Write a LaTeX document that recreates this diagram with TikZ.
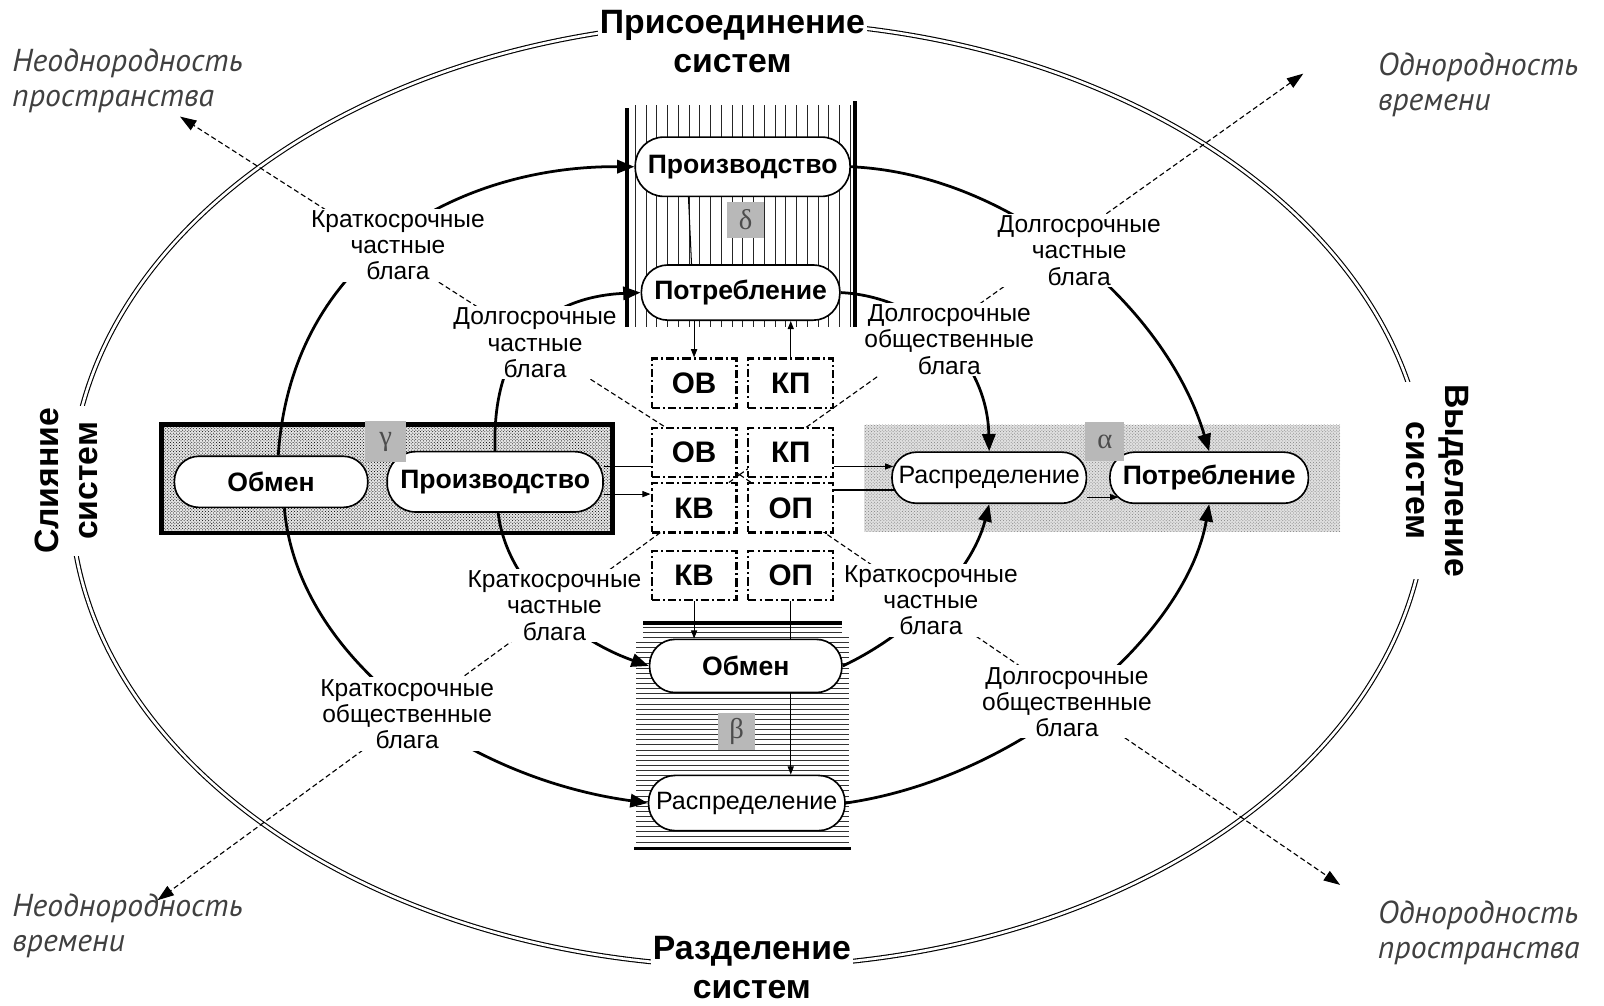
\documentclass[tikz,border=0pt]{standalone}
\usepackage{fontspec}
\setmainfont{Liberation Sans}
\newfontfamily\grk{Liberation Serif}
\newfontfamily\ptit{PT Sans}
\usetikzlibrary{arrows.meta,patterns}
\pgfdeclarelayer{back}
\pgfdeclarelayer{mid}
\pgfsetlayers{back,mid,main}
\tikzset{
  stad/.style={draw, line width=1.6pt, fill=white, inner sep=0pt,
    font=\fontsize{26}{28}\selectfont\bfseries},
  stadr/.style={stad, font=\fontsize{24.5}{26}\selectfont},
  gbox/.style={draw, line width=2.2pt, dash pattern=on 8pt off 3pt on 2pt off 3pt,
    fill=white, minimum width=83pt, minimum height=48pt, inner sep=0pt,
    font=\fontsize{29}{30}\selectfont\bfseries},
  glab/.style={fill=black!28, minimum size=#1, inner sep=0pt,
    font=\grk\fontsize{28}{28}\selectfont, text=black!70},
  clab/.style={fill=white, align=center, inner sep=2pt, font=\fontsize{24}{25.5}\selectfont},
  elab/.style={fill=white, align=center, inner sep=2pt, font=\bfseries\fontsize{33}{38}\selectfont},
  corner/.style={align=left, anchor=west, inner sep=0pt, text=black!75, font=\ptit\itshape\fontsize{31}{34}\selectfont},
  flow/.style={line width=2.7pt, -{Triangle[length=17pt,width=13pt]}},
  dline/.style={line width=1.1pt, dash pattern=on 5pt off 3pt, -{Triangle[length=16pt,width=11pt]}},
  thinarr/.style={line width=1pt, -{Triangle[length=8pt,width=6pt]}},
  thinl/.style={line width=1pt},
}
\begin{document}
\begin{tikzpicture}[x=1pt,y=-1pt]
\useasboundingbox (0,0) rectangle (1568,983);

% ---------- nodes ----------
% delta
\node[stad, minimum width=210pt, minimum height=58pt, rounded corners=28pt] (dProiz) at (726,163) {Производство};
\node[stad, minimum width=194pt, minimum height=54pt, rounded corners=26pt] (dPotr) at (724,286) {Потребление};
% gamma
\node[stad, minimum width=189pt, minimum height=50pt, rounded corners=24pt] (gObmen) at (265,471) {Обмен};
\node[stad, minimum width=211pt, minimum height=59pt, rounded corners=28pt] (gProiz) at (484,471) {Производство};
% alpha
\node[stadr, minimum width=190pt, minimum height=50pt, rounded corners=24pt] (aRasp) at (967,467) {Распределение};
\node[stad, minimum width=194pt, minimum height=50pt, rounded corners=24pt] (aPotr) at (1182,467) {Потребление};
% beta
\node[stad, minimum width=188pt, minimum height=52pt, rounded corners=25pt] (bObmen) at (729,651) {Обмен};
\node[stadr, minimum width=192pt, minimum height=54pt, rounded corners=26pt] (bRasp) at (730,785) {Распределение};

% grid boxes
\node[gbox] (tOV) at (678.5,374.5) {ОВ};
\node[gbox] (tKP) at (773,374.5) {КП};
\node[gbox] (mOV) at (678.5,442.5) {ОВ};
\node[gbox] (mKP) at (773,442.5) {КП};
\node[gbox] (mKV) at (678.5,496.5) {КВ};
\node[gbox] (mOP) at (773,496.5) {ОП};
\node[gbox] (bKV) at (678.5,562.5) {КВ};
\node[gbox] (bOP) at (773,562.5) {ОП};

% greek labels
\node[glab=36pt] (lDelta) at (729,215) {δ};
\node[glab=40pt] (lGamma) at (377,432) {γ};
\node[glab=38pt] (lAlpha) at (1080,432) {α};
\node[glab=36pt] (lBeta) at (720,715) {β};

% connector labels
\node[clab] (L1) at (389,240) {Краткосрочные\\частные\\блага};
\node[clab] (L2) at (523,335) {Долгосрочные\\частные\\блага};
\node[clab] (L3) at (1055,245) {Долгосрочные\\частные\\блага};
\node[clab] (L4) at (928,332) {Долгосрочные\\общественные\\блага};
\node[clab] (L5) at (542,592) {Краткосрочные\\частные\\блага};
\node[clab] (L6) at (910,587) {Краткосрочные\\частные\\блага};
\node[clab] (L7) at (398,698) {Краткосрочные\\общественные\\блага};
\node[clab] (L8) at (1043,686) {Долгосрочные\\общественные\\блага};

% ellipse labels
\node[elab] (eTop) at (716,41) {Присоединение\\систем};
\node[elab] (eBot) at (735,946) {Разделение\\систем};
\node[elab, rotate=90] (eLeft) at (65,470) {Слияние\\систем};
\node[elab, rotate=-90] (eRight) at (1405,470) {Выделение\\систем};

% corner labels
\node[corner] (cTL) at (12,79) {Неоднородность\\пространства};
\node[corner] (cTR) at (1347,83) {Однородность\\времени};
\node[corner] (cBL) at (12,905) {Неоднородность\\времени};
\node[corner] (cBR) at (1347,912) {Однородность\\пространства};

\coordinate (ctr) at (723,464);
\coordinate (tipTL) at (176,114);
\coordinate (tipTR) at (1274,72);
\coordinate (tipBL) at (154,880);
\coordinate (tipBR) at (1310,865);

% ---------- background ----------
\begin{pgfonlayer}{back}
  \fill[white] (0,0) rectangle (1568,983);
  \draw[line width=1.1pt, double, double distance=2.6pt] (732,483) ellipse [x radius=663pt, y radius=462pt];
  % alpha block
  \fill[black!12] (845,415) rectangle (1310,520);
  \fill[pattern=crosshatch dots, pattern color=black!50] (845,415) rectangle (1310,520);
  % gamma block
  \fill[black!10] (158,415) rectangle (599,521);
  \fill[pattern=crosshatch dots, pattern color=black] (158,415) rectangle (599,521);
  \draw[line width=4.5pt] (158,415) rectangle (599,521);
  % delta block
  \foreach \x in {621,631.5,...,832} \draw[line width=0.7pt, black!85] (\x,103) -- (\x,320);
  \draw[line width=3.5pt] (613,106) -- (613,320);
  \draw[line width=3.5pt] (836,99) -- (836,320);
  % beta block
  \foreach \y in {613,618,...,828} \draw[line width=0.6pt, black!80] (622,\y) -- (830,\y);
  \draw[line width=3.5pt] (620,609) -- (832,609);
  \draw[line width=3pt] (620,829) -- (832,829);
\end{pgfonlayer}

% ---------- connectors ----------
\begin{pgfonlayer}{mid}
  \draw[dline] (ctr) -- (tipTL);
  \draw[dline] (ctr) -- (tipTR);
  \draw[dline] (ctr) -- (tipBL);
  \draw[dline] (ctr) -- (tipBR);
  % big flows
  \draw[flow] ([xshift=7pt]gObmen.north) .. controls (285,250) and (450,162) .. (dProiz.west);
  \draw[flow] ([xshift=13pt]gObmen.south) .. controls (290,640) and (450,760) .. (bRasp.west);
  \draw[flow] (gProiz.north) .. controls (480,330) and (540,290) .. (dPotr.west);
  \draw[flow] ([xshift=3pt]gProiz.south) .. controls (495,570) and (560,625) .. (bObmen.west);
  \draw[flow] (dProiz.east) .. controls (990,170) and (1140,300) .. (aPotr.north);
  \draw[flow] (dPotr.east) .. controls (900,290) and (965,350) .. (aRasp.north);
  \draw[flow] (bObmen.east) .. controls (890,620) and (950,560) .. (aRasp.south);
  \draw[flow] (bRasp.east) .. controls (1000,760) and (1160,620) .. (aPotr.south);
  % thin links
  \draw[thinl] ([xshift=-53pt]dProiz.south) -- ([xshift=-48pt]dPotr.north);
  \draw[thinarr] (dPotr.south -| tOV.north) -- (tOV.north);
  \draw[thinarr] (tKP.north) -- (tKP.north |- dPotr.south);
  \draw[thinl] ([yshift=15pt]gProiz.east) -- ([yshift=15pt]gProiz.east -| mOV.west);
  \draw[thinarr] ([yshift=-12pt]gProiz.east) -- ([yshift=-12pt]gProiz.east -| mKV.west);
  \draw[thinarr] ([yshift=11pt]aRasp.west -| mKP.east) -- ([xshift=2pt,yshift=11pt]aRasp.west);
  \draw[thinl] ([yshift=-12pt]aRasp.west -| mOP.east) -- ([xshift=4pt,yshift=-12pt]aRasp.west);
  \draw[thinarr] ([yshift=-19pt]aRasp.east) -- ([xshift=9pt,yshift=-19pt]aPotr.west);
  \draw[thinarr] (bKV.south) -- (bKV.south |- bObmen.north);
  \draw[thinarr] (bOP.south) -- (bOP.south |- bRasp.north);
\end{pgfonlayer}
\end{tikzpicture}
\end{document}
